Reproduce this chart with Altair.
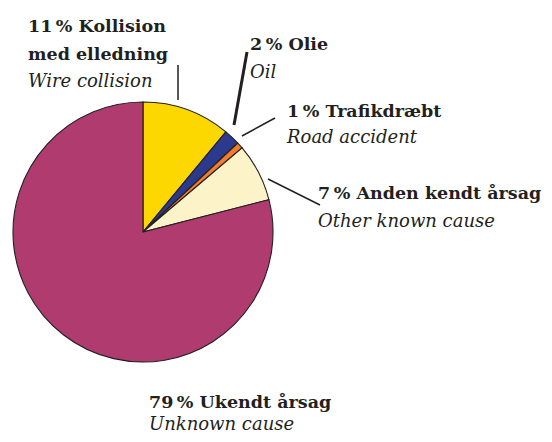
import altair as alt
import pandas as pd

# ---- data ----
causes = ["Kollision med elledning", "Olie", "Trafikdræbt", "Anden kendt årsag", "Ukendt årsag"]
shares = [11, 2, 0.8, 7.2, 79]
slice_order = [0, 1, 2, 3, 4]
colors = ["#FDD800", "#2B3A8C", "#F07C2C", "#FDF3C9", "#B03B6F"]

bold_labels = ["11\u2009% Kollision", "2\u2009% Olie", "1\u2009% Trafikdræbt",
               "7\u2009% Anden kendt årsag", "79\u2009% Ukendt årsag"]
bold_extra = "med elledning"
italic_labels = ["Wire collision", "Oil", "Road accident", "Other known cause", "Unknown cause"]

# ---- layout (pixels inside the chart) ----
W, H = 536, 426
CX, CY, R = 135, 224, 130
FONT = "DejaVu Serif"
FS_B = 17.5
FS_I = 18
INK = "#231F20"

df = pd.DataFrame({"cause": causes, "share": shares, "order": slice_order})

pie = alt.Chart(df).mark_arc(outerRadius=R, stroke=INK, strokeWidth=1.1).encode(
    theta=alt.Theta("share:Q", stack=True),
    color=alt.Color("cause:N", scale=alt.Scale(domain=causes, range=colors), legend=None),
    order=alt.Order("order:Q"),
    x=alt.value(CX),
    y=alt.value(CY),
)

base = alt.Chart(pd.DataFrame({"a": [0]}))

def label(text, x, y, bold=True):
    return base.mark_text(
        font=FONT, fontSize=FS_B if bold else FS_I,
        fontWeight="bold" if bold else "normal",
        fontStyle="normal" if bold else "italic",
        align="left", baseline="alphabetic", color=INK,
    ).encode(x=alt.value(x), y=alt.value(y), text=alt.value(text))

def leader(x1, y1, x2, y2, w=1.5):
    return base.mark_rule(color=INK, strokeWidth=w).encode(
        x=alt.value(x1), y=alt.value(y1), x2=alt.value(x2), y2=alt.value(y2))

label_pos = [(20, 24), (242, 42), (279, 109), (310, 191), (141, 400)]
italic_pos = [(20, 79), (242, 70), (279, 135), (310, 219), (141, 422)]

layers = [pie]
for t, (x, y) in zip(bold_labels, label_pos):
    layers.append(label(t, x, y, True))
layers.append(label(bold_extra, 20, 52, True))
for t, (x, y) in zip(italic_labels, italic_pos):
    layers.append(label(t, x, y, False))

layers += [
    leader(170, 57, 170, 92),
    leader(239, 44, 226, 117, 3),
    leader(267, 110, 234, 128),
    leader(260, 171, 312, 197),
]

chart = alt.layer(*layers).properties(
    width=W, height=H, autosize="none", padding=0
).configure_view(stroke=None)

chart.save("out.html", embed_options={"renderer": "svg", "actions": False})
